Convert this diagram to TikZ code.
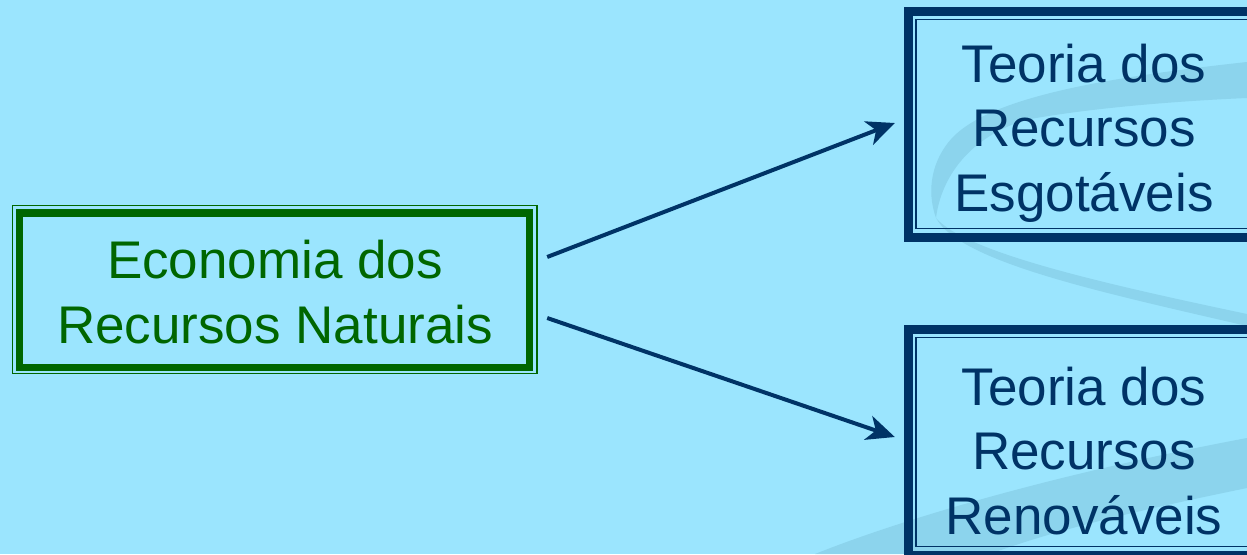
\documentclass[tikz,border=0pt]{standalone}
\usepackage{fontspec}
\setmainfont{Liberation Sans}
\usetikzlibrary{arrows.meta}
\definecolor{bg}{RGB}{155,229,254}
\definecolor{band}{RGB}{140,212,237}
\definecolor{ecogreen}{RGB}{0,102,0}
\definecolor{navy}{RGB}{0,51,102}
\tikzset{
  boxnode/.style={draw=none,inner sep=0pt,rectangle},
  txt/.style={align=center,inner sep=0pt,font=\fontsize{53}{64.5}\selectfont},
  arr/.style={draw=navy,line width=4pt,-{Stealth[length=28pt,width=25pt,inset=8pt]}},
  thinframe/.style={line width=1.5pt},
}
\begin{document}
\begin{tikzpicture}[x=1pt,y=-1pt]
\useasboundingbox (0,0) rectangle (1247,554);
\fill[bg] (0,0) rectangle (1247,554);
% background swoosh
\begin{scope}
\clip (0,0) rectangle (1247,554);
\fill[band] (1247,62) .. controls (1100,78) and (990,98) .. (952,138)
  .. controls (932,160) and (926,190) .. (936,218)
  .. controls (940,185) and (962,140) .. (1025,120)
  .. controls (1100,106) and (1200,100) .. (1247,98) -- cycle;
\fill[band] (936,218) .. controls (965,252) and (1100,283) .. (1247,314)
  -- (1247,326) .. controls (1100,292) and (960,262) .. (936,218) -- cycle;
\fill[band] (815,554) .. controls (900,520) and (1050,475) .. (1247,438)
  -- (1247,488) .. controls (1150,508) and (1060,528) .. (990,554) -- cycle;
\end{scope}
% boxes
\node[boxnode,minimum width=524.5pt,minimum height=168pt] (eco) at (274.75,289.5) {};
\node[boxnode,minimum width=360pt,minimum height=235pt] (esg) at (1084,124.5) {};
\node[boxnode,minimum width=360pt,minimum height=235pt] (ren) at (1084,442.5) {};
\begin{scope}
\clip (0,0) rectangle (1247,554);
\draw[ecogreen,thinframe] (eco.north west) rectangle (eco.south east);
\draw[ecogreen,line width=7.5pt] ([shift={(7,7.5)}]eco.north west) rectangle ([shift={(-7.5,-6)}]eco.south east);
\foreach \b in {esg,ren}{
  \draw[navy,line width=9.5pt] ([shift={(4.75,4.75)}]\b.north west) rectangle ([shift={(-4.75,-4.75)}]\b.south east);
  \draw[navy,thinframe] ([shift={(12,12.5)}]\b.north west) rectangle ([shift={(-12,-13.5)}]\b.south east);
}
\end{scope}
% texts
\node[txt,text=ecogreen] (ecotxt) at (275,292) {Economia dos\\Recursos Naturais};
\node[txt,text=navy] (esgtxt) at (1084,133) {Teoria dos\\Recursos\\Esgotáveis};
\node[txt,text=navy] (rentxt) at (1084,451) {Teoria dos\\Recursos\\Renováveis};
% connectors
\draw[arr] ([xshift=10pt,yshift=32.5pt]eco.east) -- ([xshift=-9pt,yshift=1.5pt]esg.west);
\draw[arr] ([xshift=10pt,yshift=-28.5pt]eco.east) -- ([xshift=-9pt,yshift=5.5pt]ren.west);
\end{tikzpicture}
\end{document}
